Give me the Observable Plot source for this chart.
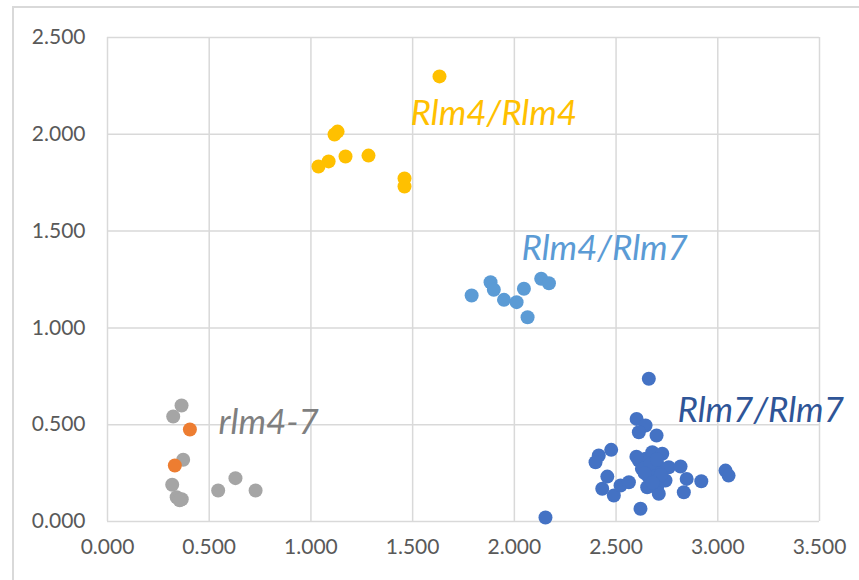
<!DOCTYPE html>
<html>
<head>
<meta charset="utf-8">
<script src="https://cdn.jsdelivr.net/npm/d3@7"></script>
<script src="https://cdn.jsdelivr.net/npm/@observablehq/plot@0.6"></script>
<style>
  body { margin: 0; background: #fff; overflow: hidden; }
  #wrap { position: relative; width: 859px; height: 580px; }
  #frame { position: absolute; left: 12px; top: 6px; width: 900px; height: 700px;
           border-top: 2px solid #D9D9D9; border-left: 2px solid #D9D9D9; }
  #chart { position: absolute; left: 0; top: 0; }
</style>
</head>
<body>
<div id="wrap"><div id="frame"></div><div id="chart"></div></div>
<script>
// Series: Rlm4/Rlm4 (gold)
const rlm44X = [1.632, 1.131, 1.116, 1.087, 1.037, 1.170, 1.283, 1.460, 1.460];
const rlm44Y = [2.299, 2.014, 1.999, 1.860, 1.834, 1.885, 1.890, 1.772, 1.730];

// Series: Rlm4/Rlm7 (light blue)
const rlm47X = [1.790, 1.883, 1.899, 1.949, 2.011, 2.047, 2.065, 2.132, 2.170];
const rlm47Y = [1.167, 1.236, 1.197, 1.145, 1.133, 1.202, 1.055, 1.254, 1.231];

// Series: Rlm7/Rlm7 (dark blue)
const rlm77X = [2.661, 2.601, 2.645, 2.612, 2.699, 2.476, 2.415, 2.399, 2.457, 2.432,
                2.489, 2.522, 2.563, 2.620, 2.612, 2.645, 2.678, 2.727, 2.702, 2.759,
                2.817, 2.661, 2.743, 2.702, 2.653, 2.710, 2.847, 2.919, 2.833, 2.627,
                3.038, 3.053, 2.153, 2.600, 2.690, 2.670, 2.720, 2.640, 2.700, 2.680];
const rlm77Y = [0.737, 0.530, 0.496, 0.461, 0.444, 0.370, 0.341, 0.306, 0.232, 0.169,
                0.134, 0.186, 0.203, 0.066, 0.315, 0.324, 0.358, 0.350, 0.298, 0.280,
                0.284, 0.229, 0.212, 0.177, 0.177, 0.143, 0.220, 0.208, 0.151, 0.272,
                0.263, 0.237, 0.021, 0.335, 0.260, 0.300, 0.240, 0.250, 0.320, 0.200];

// Series: rlm4-7 (gray)
const rlmNullX = [0.364, 0.323, 0.372, 0.318, 0.340, 0.365, 0.355, 0.544, 0.629, 0.728];
const rlmNullY = [0.599, 0.542, 0.319, 0.190, 0.125, 0.115, 0.110, 0.160, 0.224, 0.160];

// Series: orange points
const orangeX = [0.405, 0.331];
const orangeY = [0.475, 0.289];

// Axis ticks
const xTicks = [0, 0.5, 1, 1.5, 2, 2.5, 3, 3.5];
const yTicks = [0, 0.5, 1, 1.5, 2, 2.5];

// Labels
const labelText = ["Rlm4/Rlm4", "Rlm4/Rlm7", "rlm4-7", "Rlm7/Rlm7"];
const labelX = [1.490, 2.035, 0.546, 2.802];
const labelY = [2.107, 1.410, 0.511, 0.573];
const labelColor = ["#FFC000", "#5B9BD5", "#7F7F7F", "#2F5597"];

const toPts = (xs, ys) => xs.map((x, i) => ({x, y: ys[i]}));
const labels = labelText.map((t, i) => ({t, x: labelX[i], y: labelY[i], c: labelColor[i]}));

const font = "Lato, 'Open Sans', 'Liberation Sans', sans-serif";

const chart = Plot.plot({
  width: 859,
  height: 580,
  marginLeft: 107,
  marginRight: 40,
  marginTop: 37,
  marginBottom: 59,
  style: { fontFamily: font, background: "transparent", overflow: "visible" },
  x: { domain: [0, 3.5], ticks: xTicks, tickFormat: d3.format(".3f"), label: null },
  y: { domain: [0, 2.5], ticks: yTicks, tickFormat: d3.format(".3f"), label: null },
  marks: [
    Plot.gridX(xTicks, { stroke: "#D9D9D9", strokeOpacity: 1, strokeWidth: 1.5 }),
    Plot.gridY(yTicks, { stroke: "#D9D9D9", strokeOpacity: 1, strokeWidth: 1.5 }),
    Plot.axisX(xTicks, { tickSize: 0, tickPadding: 18, fontSize: 21, fill: "#595959", label: null, tickFormat: d3.format(".3f") }),
    Plot.axisY(yTicks, { tickSize: 0, tickPadding: 22, fontSize: 21, fill: "#595959", label: null, tickFormat: d3.format(".3f") }),
    Plot.dot(toPts(rlmNullX, rlmNullY), { x: "x", y: "y", r: 7, fill: "#A5A5A5" }),
    Plot.dot(toPts(orangeX, orangeY), { x: "x", y: "y", r: 7, fill: "#ED7D31" }),
    Plot.dot(toPts(rlm44X, rlm44Y), { x: "x", y: "y", r: 7, fill: "#FFC000" }),
    Plot.dot(toPts(rlm47X, rlm47Y), { x: "x", y: "y", r: 7, fill: "#5B9BD5" }),
    Plot.dot(toPts(rlm77X, rlm77Y), { x: "x", y: "y", r: 7, fill: "#4472C4" }),
    Plot.text(labels, { x: "x", y: "y", text: "t", fill: "c", textAnchor: "start",
      lineAnchor: "middle", fontSize: 35, fontStyle: "italic", fontFamily: font })
  ]
});
document.getElementById("chart").appendChild(chart);
</script>
</body>
</html>
